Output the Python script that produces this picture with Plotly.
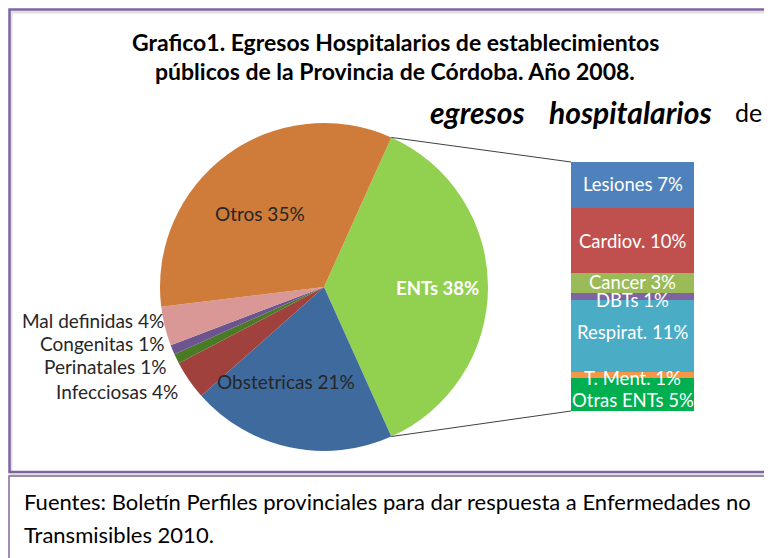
import math
import plotly.graph_objects as go

# ---------------- data ----------------
pie_labels = ["ENTs", "Obstetricas", "Infecciosas", "Perinatales", "Congenitas", "Mal definidas", "Otros"]
pie_values = [38, 21, 4, 1, 1, 4, 35]
pie_colors = ["#92D050", "#3F6A9E", "#A0413E", "#4B7A25", "#6B5490", "#D99795", "#CF7C3A"]

bar_labels = ["Lesiones", "Cardiov.", "Cancer", "DBTs", "Respirat.", "T. Ment.", "Otras ENTs"]
bar_values = [7, 10, 3, 1, 11, 1, 5]
bar_colors = ["#4F81BD", "#C0504D", "#9BBB59", "#8064A2", "#4BACC6", "#F79646", "#00B050"]

title_lines = ["Grafico1. Egresos Hospitalarios de establecimientos",
               "públicos de la Provincia de Córdoba. Año 2008."]
source_lines = ["Fuentes: Boletín Perfiles provinciales para dar respuesta a Enfermedades no",
                "Transmisibles 2010."]
overlay_words = ["egresos", "hospitalarios", "de"]

# ---------------- geometry helpers ----------------
# the page body has an 8px margin, so the figure is placed at (8, 8)
OFF = 8
W, H = 764, 550
FONT = "Lato"


def px(x):
    return (x - OFF) / W


def py(y):
    return 1 - (y - OFF) / H


cx, cy, r = 324, 287, 164
bar_l, bar_r, bar_t, bar_b = 571, 694, 162, 411

total = sum(pie_values)
rotation = 90 - 180 * pie_values[0] / total

fig = go.Figure()

fig.add_trace(go.Pie(
    labels=pie_labels, values=pie_values, sort=False, direction="clockwise",
    rotation=rotation, marker=dict(colors=pie_colors, line=dict(width=0)),
    textinfo="none", hoverinfo="label+value", showlegend=False,
    domain=dict(x=[px(cx - r), px(cx + r)], y=[py(cy + r), py(cy - r)]),
))

# stacked bar (bottom to top)
for lab, val, col in list(zip(bar_labels, bar_values, bar_colors))[::-1]:
    fig.add_trace(go.Bar(x=[0], y=[val], name=lab, marker=dict(color=col, line=dict(width=0)),
                         xaxis="x", yaxis="y", showlegend=False, width=1))

# bar labels
cum = 0
mids = {}
for lab, val in list(zip(bar_labels, bar_values))[::-1]:
    mids[lab] = cum + val / 2
    cum += val
bar_shift = {"Lesiones": 1, "Cancer": 1, "DBTs": -4, "Respirat.": 4, "T. Ment.": -3, "Otras ENTs": -5}
annotations = []
for lab, val in zip(bar_labels, bar_values):
    annotations.append(dict(x=0, y=mids[lab], xref="x", yref="y", text=f"{lab} {val}%",
                            showarrow=False, yshift=bar_shift.get(lab, 0),
                            font=dict(family=FONT, size=18.5, color="white")))

# pie labels
pie_label_pos = {
    "ENTs": (437, 288, "center", True, "white"),
    "Otros": (260, 214, "center", False, "#262626"),
    "Obstetricas": (286, 381, "center", False, "#262626"),
    "Mal definidas": (166, 320, "right", False, "#262626"),
    "Congenitas": (166, 343, "right", False, "#262626"),
    "Perinatales": (168, 366, "right", False, "#262626"),
    "Infecciosas": (180, 391, "right", False, "#262626"),
}
for lab, val in zip(pie_labels, pie_values):
    x, y, anchor, bold, col = pie_label_pos[lab]
    t = f"{lab} {val}%"
    if bold:
        t = f"<b>{t}</b>"
    annotations.append(dict(x=px(x), y=py(y), xref="paper", yref="paper", text=t,
                            showarrow=False, xanchor=anchor, yanchor="middle",
                            font=dict(family=FONT, size=18.5 if bold else 19, color=col)))

# title
for i, line in enumerate(title_lines):
    annotations.append(dict(x=px(395), y=py(42 + 29 * i), xref="paper", yref="paper",
                            text=f"<b>{line}</b>", showarrow=False, xanchor="center", yanchor="middle",
                            font=dict(family=FONT, size=23, color="#000000")))

# overlay words
for word, x0, bold in zip(overlay_words, [428, 547, 733], [True, True, False]):
    t = f"<b><i>{word}</i></b>" if bold else word
    annotations.append(dict(x=px(x0), y=py(112), xref="paper", yref="paper", text=t,
                            showarrow=False, xanchor="left", yanchor="middle",
                            font=dict(family=FONT, size=30 if bold else 25, color="#000000")))

# source
for i, line in enumerate(source_lines):
    annotations.append(dict(x=px(22), y=py(501 + 33 * i), xref="paper", yref="paper",
                            text=line, showarrow=False, xanchor="left", yanchor="middle",
                            font=dict(family=FONT, size=22, color="#000000")))

# shapes: frames and connector lines
shapes = []
shapes.append(dict(type="rect", xref="paper", yref="paper", x0=px(11), x1=px(800), y0=py(475), y1=py(12),
                   line=dict(color="rgba(0,0,0,0.12)", width=3), layer="below"))
shapes.append(dict(type="rect", xref="paper", yref="paper", x0=px(9.5), x1=px(800), y0=py(472), y1=py(9.5),
                   line=dict(color="#8064A2", width=2.5), layer="below"))
shapes.append(dict(type="rect", xref="paper", yref="paper", x0=px(9), x1=px(800), y0=py(600), y1=py(476),
                   line=dict(color="#7D6C99", width=1.5), layer="below"))

a0 = math.radians(rotation)
a1 = math.radians(rotation + 360 * pie_values[0] / total)
p0 = (cx + r * math.sin(a0), cy - r * math.cos(a0))
p1 = (cx + r * math.sin(a1), cy - r * math.cos(a1))
for (x0, y0), (x1, y1) in [(p0, (bar_l, bar_t)), (p1, (bar_l, bar_b))]:
    shapes.append(dict(type="line", xref="paper", yref="paper", x0=px(x0), y0=py(y0), x1=px(x1), y1=py(y1),
                       line=dict(color="#404040", width=1)))

fig.update_layout(
    width=W, height=H, margin=dict(l=0, r=0, t=0, b=0),
    paper_bgcolor="white", plot_bgcolor="rgba(0,0,0,0)",
    barmode="stack", bargap=0,
    xaxis=dict(domain=[px(bar_l), px(bar_r)], range=[-0.5, 0.5], visible=False, fixedrange=True),
    yaxis=dict(domain=[py(bar_b), py(bar_t)], range=[0, sum(bar_values)], visible=False, fixedrange=True),
    annotations=annotations, shapes=shapes,
)

fig.write_html("out.html")
